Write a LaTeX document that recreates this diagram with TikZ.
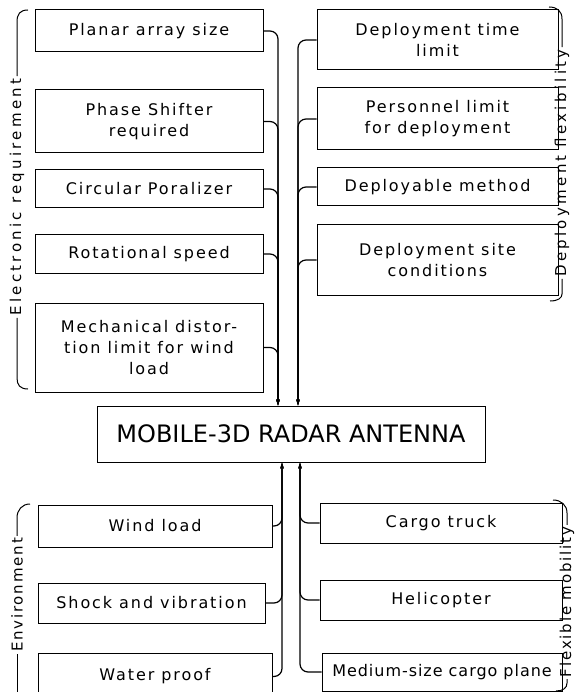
\documentclass[tikz,border=0pt]{standalone}
\usepackage{fontspec}
\setmainfont{DejaVu Sans}
\newfontfamily\boxfont[LetterSpace=12]{DejaVu Sans}
\newfontfamily\tightfont[LetterSpace=6]{DejaVu Sans}
\newfontfamily\grpfont[LetterSpace=22]{DejaVu Sans}
\newfontfamily\grpfontb[LetterSpace=12]{DejaVu Sans}
\usetikzlibrary{arrows.meta}

\begin{document}
\begin{tikzpicture}[x=1pt,y=-1pt,
  box/.style={draw, line width=1pt, align=center, inner sep=0pt,
    font=\boxfont\fontsize{16}{21}\selectfont},
  conn/.style={line width=1.2pt, rounded corners=8pt,
    -{Stealth[length=6pt,width=3.5pt]}},
  grp/.style={rotate=90, inner sep=2pt, font=\grpfont\fontsize{15}{16}\selectfont},
  grpb/.style={grp, font=\grpfontb\fontsize{15}{16}\selectfont},
  brace/.style={line width=1pt}]
\useasboundingbox (0,0) rectangle (578,692);

% central item
\node[box, minimum width=388pt, minimum height=56pt,
  font=\fontsize{24}{28}\selectfont] (main) at (291,434) {MOBILE-3D RADAR ANTENNA};

% electronic requirements
\node[box, minimum width=228pt, minimum height=42pt] (planar) at (149,31) {Planar array size};
\node[box, minimum width=228pt, minimum height=63pt] (phase) at (149,121.5) {Phase Shifter\\required};
\node[box, minimum width=228pt, minimum height=38pt] (circ) at (149,189) {Circular Poralizer};
\node[box, minimum width=228pt, minimum height=38pt] (rot) at (149,254) {Rotational speed};
\node[box, minimum width=228pt, minimum height=89pt] (mech) at (149,347.5) {Mechanical distor-\\tion limit for wind\\load};

% deployment flexibility
\node[box, minimum width=241pt, minimum height=60pt] (dtime) at (437.5,40) {Deployment time\\limit};
\node[box, minimum width=241pt, minimum height=62pt] (pers) at (437.5,119) {Personnel limit\\for deployment};
\node[box, minimum width=241pt, minimum height=38pt] (dmeth) at (437.5,187) {Deployable method};
\node[box, minimum width=241pt, minimum height=70pt] (site) at (437.5,260) {Deployment site\\conditions};

% environment
\node[box, minimum width=234pt, minimum height=42pt] (wind) at (155,526) {Wind load};
\node[box, minimum width=227pt, minimum height=40pt] (shock) at (151.5,603) {Shock and vibration};
\node[box, minimum width=234pt, minimum height=47pt] (water) at (155,676.5) {Water proof};

% flexible mobility
\node[box, minimum width=242pt, minimum height=40pt] (truck) at (441,523) {Cargo truck};
\node[box, minimum width=242pt, minimum height=40pt] (heli) at (441,600) {Helicopter};
\node[box, minimum width=240pt, minimum height=38pt,
  font=\tightfont\fontsize{16}{21}\selectfont] (plane) at (442,672) {Medium-size cargo plane};

% entry points on the central item
\coordinate (inTL) at ([xshift=-13pt]main.north);
\coordinate (inTR) at ([xshift=7pt]main.north);
\coordinate (inBL) at ([xshift=-9pt]main.south);
\coordinate (inBR) at ([xshift=9pt]main.south);

% collecting lines
\foreach \b in {planar,phase,circ,rot,mech} \draw[conn] (\b.east) -| (inTL);
\foreach \b in {dtime,pers,dmeth,site} \draw[conn] (\b.west) -| (inTR);
\foreach \b in {wind,shock,water} \draw[conn] (\b.east) -| (inBL);
\foreach \b in {truck,heli,plane} \draw[conn] (\b.west) -| (inBR);

% group brackets
\node[grp] (elec) at (17,197) {Electronic requirement};
\draw[brace] (28,10) .. controls (20,10) and (17,14) .. (17,22) -- (elec.east);
\draw[brace] (elec.west) -- (17,378) .. controls (17,385) and (20,389) .. (28,389);

\node[grp] (depl) at (562,163) {Deployment flexibility};
\draw[brace] (549,7) .. controls (557,7) and (562,11) .. (562,19) -- (depl.east);
\draw[brace] (depl.west) -- (562,294) .. controls (562,298) and (558,301) .. (550,301);

\node[grpb] (env) at (17,595) {Environment};
\draw[brace] (30,504) .. controls (22,504) and (17,510) .. (17,518) -- (env.east);
\draw[brace] (env.west) -- (17,700);

\node[grpb] (flex) at (567,602) {Flexible mobility};
\draw[brace] (553,500) .. controls (561,500) and (567,505) .. (567,513) -- (flex.east);
\draw[brace] (flex.west) -- (567,683) .. controls (567,688) and (563,691) .. (556,691);
\end{tikzpicture}
\end{document}
